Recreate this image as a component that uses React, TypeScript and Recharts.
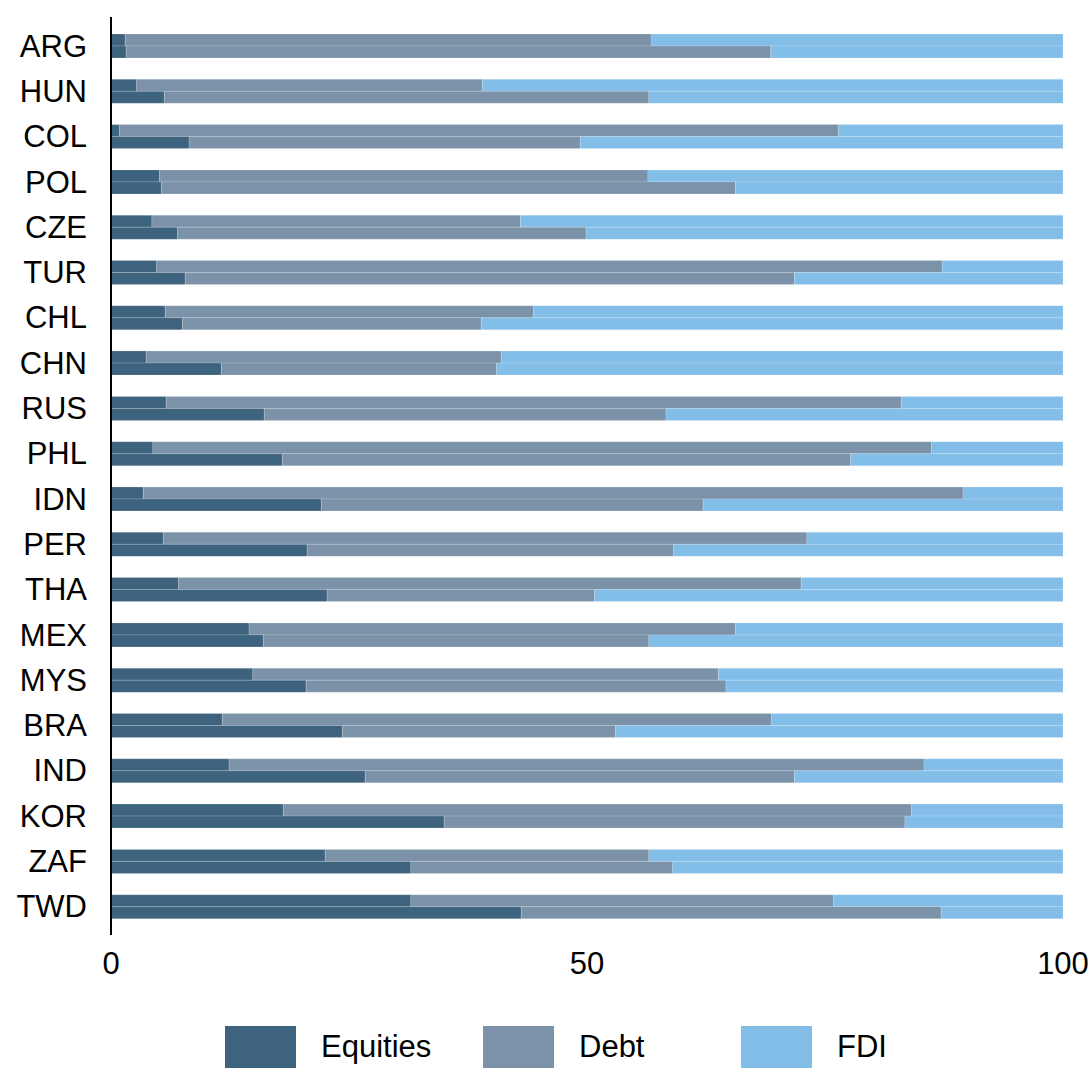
import { BarChart, Bar, XAxis, YAxis, Legend } from 'recharts';

const countries = ['ARG', 'HUN', 'COL', 'POL', 'CZE', 'TUR', 'CHL', 'CHN', 'RUS', 'PHL', 'IDN', 'PER', 'THA', 'MEX', 'MYS', 'BRA', 'IND', 'KOR', 'ZAF', 'TWD'];

// upper bar of each pair
const equitiesA = [1.5, 2.7, 0.9, 5.1, 4.3, 4.8, 5.7, 3.7, 5.8, 4.4, 3.4, 5.5, 7.1, 14.5, 14.9, 11.7, 12.4, 18.1, 22.5, 31.5];
const debtA = [55.3, 36.3, 75.5, 51.3, 38.7, 82.5, 38.7, 37.3, 77.2, 81.8, 86.1, 67.6, 65.4, 51.1, 48.9, 57.7, 73.0, 66.0, 34.0, 44.4];
const fdiA = [43.2, 61.0, 23.6, 43.6, 57.0, 12.7, 55.6, 59.0, 17.0, 13.8, 10.5, 26.9, 27.5, 34.4, 36.2, 30.6, 14.6, 15.9, 43.5, 24.1];

// lower bar of each pair
const equitiesB = [1.6, 5.6, 8.2, 5.3, 7.0, 7.8, 7.5, 11.6, 16.1, 18.0, 22.1, 20.6, 22.7, 16.0, 20.5, 24.3, 26.7, 35.0, 31.5, 43.1];
const debtB = [67.7, 50.9, 41.1, 60.3, 42.9, 64.0, 31.4, 28.9, 42.2, 59.7, 40.1, 38.5, 28.1, 40.5, 44.1, 28.7, 45.1, 48.4, 27.5, 44.1];
const fdiB = [30.7, 43.5, 50.7, 34.4, 50.1, 28.2, 61.1, 59.5, 41.7, 22.3, 37.8, 40.9, 49.2, 43.5, 35.4, 47.0, 28.2, 16.6, 41.0, 12.8];

const xTicks = [0, 50, 100];

const colors = { equities: '#3e637e', debt: '#7b92a8', fdi: '#82bee8' };
const legendItems = [
  { name: 'Equities', color: colors.equities },
  { name: 'Debt', color: colors.debt },
  { name: 'FDI', color: colors.fdi },
];

const data = countries.map((c, i) => ({
  country: c,
  eqA: equitiesA[i],
  debtA: debtA[i],
  fdiA: fdiA[i],
  eqB: equitiesB[i],
  debtB: debtB[i],
  fdiB: fdiB[i],
}));

const font = '"Liberation Sans", Arial, Helvetica, sans-serif';

const LegendContent = () => (
  <div style={{ position: 'relative', height: 42, fontFamily: font, fontSize: 31, color: '#000' }}>
    {legendItems.map((item, i) => (
      <div
        key={item.name}
        style={{ position: 'absolute', left: 225 + i * 258, top: 0, display: 'flex', alignItems: 'center', height: 42 }}
      >
        <div style={{ width: 71, height: 42, background: item.color }} />
        <span style={{ marginLeft: 25 }}>{item.name}</span>
      </div>
    ))}
  </div>
);

const barProps = { isAnimationActive: false, barSize: 12, stroke: '#ffffff', strokeOpacity: 0.35, strokeWidth: 0.5 };

export default function App() {
  return (
    <div style={{ position: 'absolute', left: 0, top: 0, width: 1092, height: 1068, background: '#fff' }}>
      <BarChart
        width={1092}
        height={1068}
        data={data}
        layout="vertical"
        barGap={0}
        margin={{ top: 17, right: 29, left: 0, bottom: 61 }}
      >
        <XAxis
          type="number"
          domain={[0, 100]}
          ticks={xTicks}
          axisLine={false}
          tickLine={false}
          tickSize={0}
          tickMargin={17}
          tick={{ fill: '#000', fontSize: 31, fontFamily: font }}
          interval={0}
        />
        <YAxis
          type="category"
          dataKey="country"
          width={111}
          padding={{ top: 6, bottom: 6 }}
          axisLine={{ stroke: '#000', strokeWidth: 2 }}
          tickLine={false}
          tickSize={0}
          tickMargin={24}
          interval={0}
          tick={{ fill: '#000', fontSize: 31, fontFamily: font }}
        />
        <Legend
          content={<LegendContent />}
          wrapperStyle={{ top: 1026, left: 0, width: 1092 }}
        />
        <Bar dataKey="eqA" stackId="a" name="Equities" fill={colors.equities} {...barProps} />
        <Bar dataKey="debtA" stackId="a" name="Debt" fill={colors.debt} {...barProps} />
        <Bar dataKey="fdiA" stackId="a" name="FDI" fill={colors.fdi} {...barProps} />
        <Bar dataKey="eqB" stackId="b" name="Equities" fill={colors.equities} legendType="none" {...barProps} />
        <Bar dataKey="debtB" stackId="b" name="Debt" fill={colors.debt} legendType="none" {...barProps} />
        <Bar dataKey="fdiB" stackId="b" name="FDI" fill={colors.fdi} legendType="none" {...barProps} />
      </BarChart>
    </div>
  );
}
